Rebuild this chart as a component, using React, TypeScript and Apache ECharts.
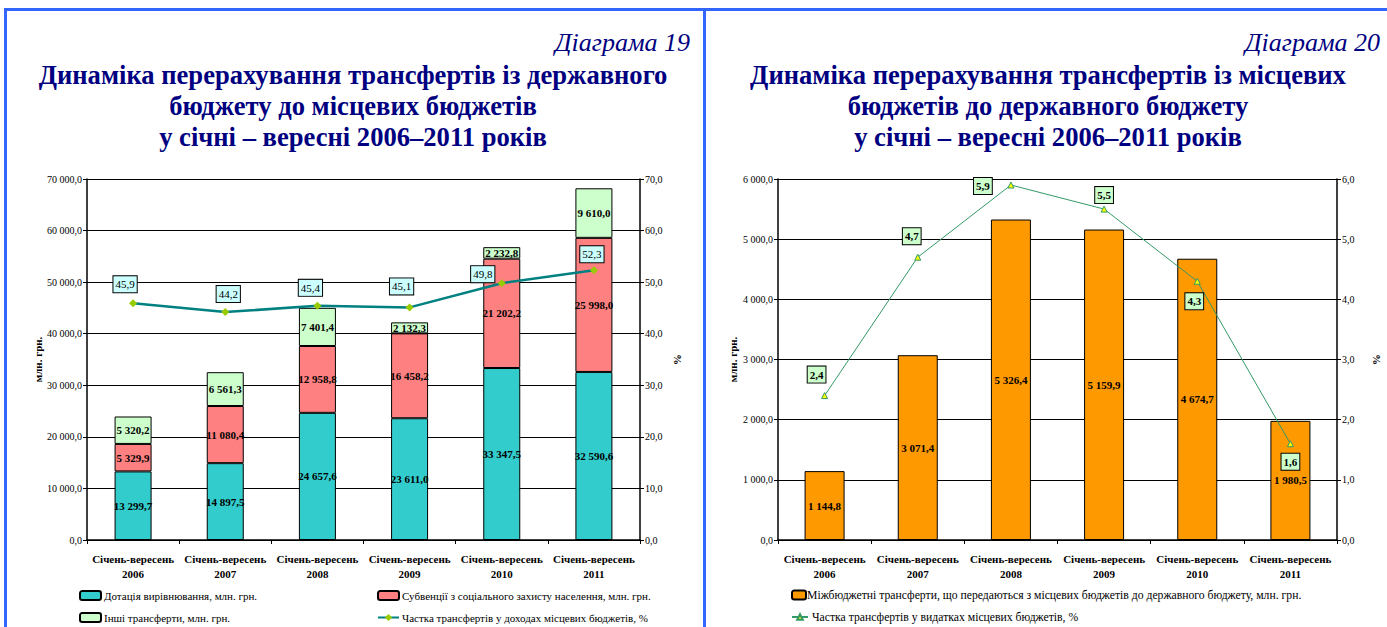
import React, { useEffect, useRef } from "react";
import * as echarts from "echarts";

const categories = [
  "Січень-вересень\n2006",
  "Січень-вересень\n2007",
  "Січень-вересень\n2008",
  "Січень-вересень\n2009",
  "Січень-вересень\n2010",
  "Січень-вересень\n2011",
];

// Diagram 19
const dotation = [13299.7, 14897.5, 24657.6, 23611.0, 33347.5, 32590.6];
const subventions = [5329.9, 11080.4, 12958.8, 16458.2, 21202.2, 25998.0];
const otherTransfers = [5320.2, 6561.3, 7401.4, 2132.3, 2232.8, 9610.0];
const shareIncome = [45.9, 44.2, 45.4, 45.1, 49.8, 52.3];

// Diagram 20
const toState = [1144.8, 3071.4, 5326.4, 5159.9, 4674.7, 1980.5];
const shareExpenses = [2.4, 4.7, 5.9, 5.5, 4.3, 1.6];

const title19 = [
  "Динаміка перерахування трансфертів із державного",
  "бюджету до місцевих бюджетів",
  "у січні – вересні 2006–2011 років",
];
const title20 = [
  "Динаміка перерахування трансфертів із місцевих",
  "бюджетів до державного бюджету",
  "у січні – вересні 2006–2011 років",
];

const names19 = {
  dot: "Дотація вирівнювання, млн. грн.",
  sub: "Субвенції з соціального захисту населення, млн. грн.",
  oth: "Інші трансферти, млн. грн.",
  share: "Частка трансфертів у доходах місцевих бюджетів, %",
};
const names20 = {
  bar: "Міжбюджетні трансферти, що передаються з місцевих бюджетів до державного бюджету, млн. грн.",
  share: "Частка трансфертів у видатках місцевих бюджетів, %",
};

const fmt = (v: number, d = 1) => {
  const s = Number(v).toFixed(d);
  const [i, f] = s.split(".");
  return i.replace(/\B(?=(\d{3})+(?!\d))/g, " ") + "," + f;
};

const SERIF = "Liberation Serif";
const NAVY = "#000080";
const BLUE = "#3366FF";

export default function App() {
  const ref = useRef<HTMLDivElement>(null);
  useEffect(() => {
    if (!ref.current) return;
    const chart = echarts.init(ref.current, null, { renderer: "svg" });

    const off19 = [[-8, -19], [3, -18], [-7, -18], [-8, -21], [-19, -9], [-2, -16]];
    const off20 = [[-8, -21], [-6, -21], [-28, 1], [0, -14], [-3, 20], [0, 18]];

    const axisLabelY = { fontFamily: SERIF, fontSize: 10, color: "#000", margin: 5 };
    const nameStyle = { fontFamily: SERIF, fontSize: 11, fontWeight: "bold", color: "#000" };
    const xAxisCommon = (gridIndex: number) => ({
      type: "category",
      gridIndex,
      data: categories,
      axisLine: { lineStyle: { color: "#000", width: 1.5 } },
      axisTick: { show: true, length: 4, lineStyle: { color: "#000" } },
      axisLabel: {
        fontFamily: SERIF,
        fontSize: 11,
        fontWeight: "bold",
        color: "#000",
        margin: 11,
        lineHeight: 15,
        interval: 0,
      },
    });

    const barLabel = {
      show: true,
      position: "inside",
      fontFamily: SERIF,
      fontSize: 11,
      fontWeight: "bold",
      color: "#000",
      formatter: (p: any) => fmt(p.value),
    };

    const titleText = (t: string, x: number, y: number) => ({
      type: "text",
      x,
      y,
      style: {
        text: t,
        fill: NAVY,
        fontFamily: SERIF,
        fontSize: 26.6,
        fontWeight: "bold",
        textAlign: "center",
        textVerticalAlign: "middle",
      },
    });
    const diagText = (t: string, x: number) => ({
      type: "text",
      x,
      y: 42,
      style: {
        text: t,
        fill: NAVY,
        fontFamily: SERIF,
        fontSize: 26,
        fontStyle: "italic",
        textAlign: "right",
        textVerticalAlign: "middle",
      },
    });
    const legendText = { fontFamily: SERIF, fontSize: 11, color: "#000", padding: [0, 0, 0, -2] };
    const legendText20 = { fontFamily: SERIF, fontSize: 11.7, color: "#000", padding: [0, 0, 0, -4] };

    const option: any = {
      animation: false,
      backgroundColor: "#fff",
      textStyle: { fontFamily: SERIF },
      graphic: [
        { type: "rect", shape: { x: 4, y: 8, width: 1383, height: 3 }, style: { fill: BLUE } },
        { type: "rect", shape: { x: 4, y: 8, width: 3, height: 619 }, style: { fill: BLUE } },
        { type: "rect", shape: { x: 703, y: 8, width: 3, height: 619 }, style: { fill: BLUE } },
        diagText("Діаграма 19", 690),
        diagText("Діаграма 20", 1380),
        ...title19.map((t, i) => titleText(t, 353, 75 + i * 31)),
        ...title20.map((t, i) => titleText(t, 1048, 75 + i * 31)),
      ],
      grid: [
        { left: 87, right: 1387 - 640, top: 179, bottom: 627 - 540, containLabel: false },
        { left: 778, right: 1387 - 1337, top: 179, bottom: 627 - 540, containLabel: false },
      ],
      xAxis: [xAxisCommon(0), xAxisCommon(1)],
      yAxis: [
        {
          type: "value",
          gridIndex: 0,
          min: 0,
          max: 70000,
          interval: 10000,
          name: "млн. грн.",
          nameLocation: "middle",
          nameGap: 44,
          nameTextStyle: nameStyle,
          axisLine: { show: true, lineStyle: { color: "#000", width: 1.5 } },
          axisTick: { show: true, length: 4, lineStyle: { color: "#000" } },
          axisLabel: { ...axisLabelY, formatter: (v: number) => fmt(v) },
          splitLine: { show: true, lineStyle: { color: "#000", width: 1 } },
        },
        {
          type: "value",
          gridIndex: 0,
          position: "right",
          min: 0,
          max: 70,
          interval: 10,
          name: "%",
          nameLocation: "middle",
          nameGap: 32,
          nameRotate: -90,
          nameTextStyle: nameStyle,
          axisLine: { show: true, lineStyle: { color: "#000", width: 1.5 } },
          axisTick: { show: true, length: 4, lineStyle: { color: "#000" } },
          axisLabel: { ...axisLabelY, formatter: (v: number) => fmt(v) },
          splitLine: { show: false },
        },
        {
          type: "value",
          gridIndex: 1,
          min: 0,
          max: 6000,
          interval: 1000,
          name: "млн. грн.",
          nameLocation: "middle",
          nameGap: 40,
          nameTextStyle: nameStyle,
          axisLine: { show: true, lineStyle: { color: "#000", width: 1.5 } },
          axisTick: { show: true, length: 4, lineStyle: { color: "#000" } },
          axisLabel: { ...axisLabelY, formatter: (v: number) => fmt(v) },
          splitLine: { show: true, lineStyle: { color: "#000", width: 1 } },
        },
        {
          type: "value",
          gridIndex: 1,
          position: "right",
          min: 0,
          max: 6,
          interval: 1,
          name: "%",
          nameLocation: "middle",
          nameGap: 34,
          nameRotate: -90,
          nameTextStyle: nameStyle,
          axisLine: { show: true, lineStyle: { color: "#000", width: 1.5 } },
          axisTick: { show: true, length: 4, lineStyle: { color: "#000" } },
          axisLabel: { ...axisLabelY, formatter: (v: number) => fmt(v) },
          splitLine: { show: false },
        },
      ],
      legend: [
        { data: [names19.dot], left: 74, top: 585, itemWidth: 21, itemHeight: 9, textStyle: legendText },
        { data: [names19.sub], left: 372, top: 585, itemWidth: 21, itemHeight: 9, textStyle: legendText },
        { data: [names19.oth], left: 74, top: 607, itemWidth: 21, itemHeight: 9, textStyle: legendText },
        { data: [names19.share], left: 372, top: 607, itemWidth: 21, itemHeight: 9, textStyle: legendText },
        { data: [names20.bar], left: 786, top: 584, itemWidth: 14, itemHeight: 9, textStyle: legendText20 },
        {
          data: [names20.share],
          left: 786,
          top: 606,
          itemWidth: 16,
          itemHeight: 7,
          textStyle: { ...legendText20, padding: [0, 0, 0, -1] },
        },
      ],
      series: [
        {
          name: names19.dot,
          type: "bar",
          stack: "t19",
          xAxisIndex: 0,
          yAxisIndex: 0,
          barWidth: 37,
          data: dotation,
          itemStyle: { color: "#33CCCC", borderColor: "#000", borderWidth: 1 },
          label: barLabel,
        },
        {
          name: names19.sub,
          type: "bar",
          stack: "t19",
          xAxisIndex: 0,
          yAxisIndex: 0,
          barWidth: 37,
          data: subventions,
          itemStyle: { color: "#FF8080", borderColor: "#000", borderWidth: 1 },
          label: barLabel,
        },
        {
          name: names19.oth,
          type: "bar",
          stack: "t19",
          xAxisIndex: 0,
          yAxisIndex: 0,
          barWidth: 37,
          data: otherTransfers,
          itemStyle: { color: "#CCFFCC", borderColor: "#000", borderWidth: 1 },
          label: barLabel,
        },
        {
          name: names19.share,
          type: "line",
          xAxisIndex: 0,
          yAxisIndex: 1,
          data: shareIncome.map((v, i) => ({ value: v, label: { offset: off19[i] } })),
          lineStyle: { color: "#008080", width: 2.5 },
          itemStyle: { color: "#99CC00" },
          symbol: "diamond",
          symbolSize: 8,
          z: 5,
          label: {
            show: true,
            position: "inside",
            fontFamily: SERIF,
            fontSize: 11,
            color: "#000",
            backgroundColor: "#CCFFFF",
            borderColor: "#000",
            borderWidth: 1,
            padding: [3, 2, 2, 2],
            formatter: (p: any) => fmt(p.value),
          },
        },
        {
          name: names20.bar,
          type: "bar",
          xAxisIndex: 1,
          yAxisIndex: 2,
          barWidth: 40,
          data: toState,
          itemStyle: { color: "#FF9900", borderColor: "#000", borderWidth: 1 },
          label: barLabel,
        },
        {
          name: names20.share,
          type: "line",
          xAxisIndex: 1,
          yAxisIndex: 3,
          data: shareExpenses.map((v, i) => ({ value: v, label: { offset: off20[i] } })),
          lineStyle: { color: "#339966", width: 1 },
          itemStyle: { color: "#FFFF00", borderColor: "#339966", borderWidth: 1 },
          symbol: "triangle",
          symbolSize: 6,
          z: 5,
          label: {
            show: true,
            position: "inside",
            fontFamily: SERIF,
            fontSize: 11,
            fontWeight: "bold",
            color: "#000",
            backgroundColor: "#CCFFCC",
            borderColor: "#000",
            borderWidth: 1,
            padding: [3, 2, 2, 2],
            formatter: (p: any) => fmt(p.value),
          },
        },
      ],
    };

    chart.setOption(option);
    return () => chart.dispose();
  }, []);

  return (
    <div
      ref={ref}
      style={{ position: "fixed", left: 0, top: 0, width: 1387, height: 627, background: "#fff" }}
    />
  );
}
